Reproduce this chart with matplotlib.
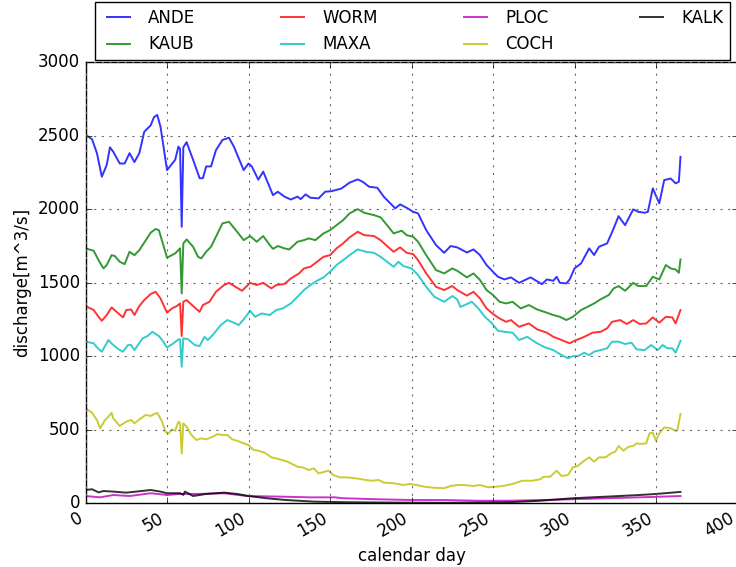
import matplotlib
matplotlib.use("Agg")
import matplotlib.pyplot as plt

# calendar day / discharge [m^3/s], one pair per gauge
ande_day = [0, 4, 7, 10, 13, 15, 17, 21, 24, 27, 30, 33, 36, 40, 42, 44, 46, 50, 55, 57, 58, 59, 60, 62, 66, 70, 72, 74, 77, 80,
            84, 88, 91, 97, 100, 102, 106, 109, 112, 115, 118, 122, 126, 130, 132, 135, 138, 143, 147, 151, 157, 162, 167, 170, 174,
            179, 183, 187, 190, 193, 197, 201, 204, 209, 215, 220, 224, 228, 234, 238, 242, 246, 250, 253, 257, 261, 266, 273, 280,
            283, 287, 289, 291, 295, 297, 300, 304, 309, 312, 315, 320, 324, 327, 331, 336, 339, 343, 345, 348, 352, 355, 359, 362, 364, 365]
ande_q = [2505, 2475, 2380, 2220, 2300, 2420, 2390, 2310, 2310, 2380, 2320, 2380, 2525, 2570, 2625, 2640, 2560, 2265, 2335, 2425, 2410, 1880, 2420, 2455, 2335, 2210, 2210, 2290, 2290, 2400,
          2470, 2485, 2425, 2265, 2310, 2290, 2200, 2255, 2175, 2095, 2118, 2085, 2065, 2085, 2068, 2100, 2077, 2073, 2118, 2122, 2140, 2180, 2202, 2186, 2152,
          2145, 2084, 2039, 2005, 2032, 2009, 1982, 1971, 1857, 1756, 1703, 1749, 1740, 1705, 1726, 1687, 1620, 1574, 1540, 1522, 1536, 1499, 1536, 1490,
          1522, 1513, 1540, 1499, 1495, 1522, 1597, 1631, 1733, 1688, 1744, 1767, 1869, 1952, 1891, 1998, 1982, 1975, 1982, 2141, 2039, 2197, 2208, 2175, 2186, 2355]

kaub_day = [0, 5, 8, 11, 13, 16, 18, 21, 24, 27, 30, 33, 37, 40, 43, 45, 50, 55, 58, 59, 60, 62, 66, 69, 71, 74, 77, 80, 84, 88,
            93, 97, 101, 105, 109, 113, 115, 118, 122, 125, 130, 134, 137, 141, 146, 150, 154, 158, 162, 167, 171, 177, 181, 185, 189,
            194, 197, 201, 204, 209, 215, 220, 225, 228, 234, 238, 242, 246, 250, 254, 258, 262, 267, 272, 277, 283, 287, 291, 295,
            299, 304, 308, 312, 316, 321, 324, 327, 331, 336, 339, 344, 348, 352, 356, 359, 362, 364, 365]
kaub_q = [1733, 1717, 1653, 1597, 1620, 1687, 1681, 1642, 1626, 1710, 1687, 1721, 1789, 1840, 1865, 1857, 1670, 1699, 1733, 1427, 1767, 1794, 1744, 1676, 1665, 1710, 1744, 1812, 1903, 1914,
          1846, 1789, 1817, 1778, 1817, 1756, 1730, 1749, 1733, 1726, 1778, 1789, 1801, 1789, 1835, 1857, 1891, 1925, 1971, 2000, 1975, 1959, 1944, 1891, 1835,
          1853, 1823, 1812, 1778, 1687, 1586, 1563, 1597, 1581, 1536, 1563, 1518, 1450, 1416, 1370, 1359, 1370, 1325, 1348, 1318, 1296, 1280, 1268, 1246,
          1268, 1314, 1336, 1359, 1387, 1416, 1461, 1477, 1445, 1499, 1477, 1477, 1540, 1522, 1620, 1597, 1590, 1567, 1658]

worm_day = [0, 5, 8, 10, 13, 16, 19, 23, 25, 28, 30, 33, 36, 40, 43, 46, 50, 53, 56, 58, 59, 60, 62, 66, 70, 72, 76, 80, 85, 88,
            92, 96, 101, 105, 109, 114, 117, 122, 126, 131, 134, 138, 142, 146, 150, 154, 158, 162, 167, 171, 177, 181, 185, 189,
            193, 197, 201, 204, 209, 215, 220, 225, 228, 234, 238, 242, 246, 250, 254, 258, 261, 266, 272, 277, 283, 287, 291, 297,
            301, 306, 311, 316, 320, 323, 328, 332, 336, 340, 344, 348, 352, 356, 360, 362, 365]
worm_q = [1341, 1314, 1268, 1241, 1280, 1332, 1302, 1264, 1314, 1318, 1280, 1341, 1382, 1423, 1438, 1393, 1296, 1325, 1341, 1359, 1137, 1370, 1382, 1341, 1302, 1348, 1370, 1438, 1484, 1499,
          1472, 1445, 1499, 1484, 1499, 1461, 1484, 1491, 1529, 1563, 1597, 1608, 1642, 1676, 1687, 1733, 1767, 1808, 1846, 1823, 1817, 1789, 1749, 1710,
          1740, 1703, 1694, 1653, 1563, 1472, 1450, 1477, 1450, 1412, 1438, 1393, 1325, 1287, 1257, 1234, 1246, 1200, 1223, 1183, 1160, 1132, 1115, 1088,
          1110, 1132, 1160, 1166, 1190, 1234, 1246, 1219, 1246, 1219, 1223, 1264, 1228, 1268, 1264, 1223, 1314]

maxa_day = [0, 5, 7, 10, 14, 17, 21, 23, 26, 28, 30, 35, 38, 41, 45, 47, 50, 54, 57, 58, 59, 60, 63, 67, 70, 73, 75, 78, 83, 87,
            91, 94, 97, 101, 104, 108, 113, 117, 121, 126, 130, 134, 138, 142, 146, 150, 154, 158, 162, 167, 172, 177, 181, 185,
            189, 192, 195, 200, 204, 209, 214, 220, 225, 228, 230, 233, 237, 241, 245, 249, 253, 257, 262, 266, 271, 277, 282, 287,
            292, 296, 299, 302, 306, 309, 312, 316, 320, 323, 327, 331, 335, 338, 343, 347, 351, 354, 357, 360, 362, 365]
maxa_q = [1099, 1088, 1060, 1031, 1110, 1076, 1042, 1031, 1076, 1076, 1042, 1122, 1137, 1166, 1137, 1110, 1060, 1088, 1115, 1115, 929, 1122, 1115, 1076, 1069, 1132, 1110, 1144, 1212, 1246,
          1228, 1212, 1250, 1309, 1268, 1291, 1280, 1314, 1325, 1359, 1404, 1450, 1484, 1513, 1536, 1574, 1620, 1653, 1687, 1726, 1710, 1703, 1676, 1642,
          1608, 1642, 1613, 1597, 1552, 1472, 1404, 1370, 1409, 1387, 1335, 1350, 1370, 1325, 1268, 1228, 1173, 1166, 1160, 1110, 1132, 1088, 1060, 1042,
          1008, 986, 1001, 1001, 1024, 1008, 1031, 1042, 1054, 1099, 1099, 1083, 1092, 1047, 1042, 1076, 1042, 1076, 1054, 1054, 1024, 1105]

ploc_day = [0, 9, 17, 27, 40, 50, 58, 68, 85, 99, 119, 138, 153, 158, 179, 199, 220, 240, 260, 281, 299, 320, 340, 365]
ploc_q = [50, 41, 57, 50, 69, 57, 64, 64, 69, 50, 46, 41, 41, 35, 28, 23, 23, 18, 18, 23, 28, 35, 41, 50]

coch_day = [0, 4, 7, 9, 12, 14, 16, 17, 21, 25, 28, 30, 33, 37, 40, 42, 44, 47, 49, 51, 53, 55, 57, 58, 59, 60, 62, 65, 68, 71,
            74, 78, 81, 84, 87, 90, 93, 96, 100, 103, 106, 110, 114, 119, 124, 130, 133, 137, 140, 143, 149, 152, 156, 160, 166,
            175, 180, 183, 189, 195, 199, 203, 208, 213, 220, 224, 228, 232, 238, 242, 247, 251, 256, 262, 268, 274, 279, 281, 285,
            289, 292, 296, 299, 302, 305, 309, 312, 315, 319, 323, 325, 327, 330, 333, 336, 338, 340, 344, 346, 348, 350, 352, 355,
            359, 362, 363, 365]
coch_q = [646, 616, 567, 510, 567, 589, 616, 578, 526, 555, 567, 544, 571, 601, 594, 607, 616, 555, 487, 476, 503, 494, 555, 545, 340, 544, 521, 465, 431, 442,
          435, 453, 471, 465, 465, 435, 426, 412, 397, 363, 358, 344, 313, 300, 283, 249, 245, 227, 238, 204, 222, 193, 177, 177, 170,
          154, 159, 141, 137, 125, 132, 125, 113, 107, 103, 118, 125, 125, 118, 125, 109, 113, 118, 132, 154, 154, 164, 181, 181,
          222, 186, 193, 245, 254, 283, 313, 283, 313, 313, 344, 351, 390, 358, 385, 390, 408, 404, 408, 476, 480, 426, 476, 517,
          510, 494, 494, 607]

kalk_day = [0, 4, 8, 11, 17, 25, 31, 40, 46, 50, 58, 60, 61, 66, 74, 85, 93, 100, 111, 123, 140, 160, 180, 200, 220, 240, 260, 279,
            299, 320, 340, 350, 365]
kalk_q = [91, 96, 75, 84, 80, 73, 80, 91, 80, 69, 69, 58, 80, 50, 64, 73, 64, 50, 35, 23, 12, 8, 6, 5, 4, 6, 8, 18,
          35, 46, 57, 64, 78]

plt.style.use("classic")
plt.rcParams["savefig.facecolor"] = "white"
plt.rcParams["figure.facecolor"] = "white"

fig = plt.figure(figsize=(7.36, 5.67), dpi=100)
ax = fig.add_axes([0.1162, 0.1122, 0.8859, 0.7785])

lw = 1.4
ax.plot(ande_day, ande_q, color="b", lw=lw, alpha=0.8, label="ANDE")
ax.plot(kaub_day, kaub_q, color="g", lw=lw, alpha=0.8, label="KAUB")
ax.plot(worm_day, worm_q, color="r", lw=lw, alpha=0.8, label="WORM")
ax.plot(maxa_day, maxa_q, color="c", lw=lw, alpha=0.8, label="MAXA")
ax.plot(ploc_day, ploc_q, color="m", lw=lw, alpha=0.8, label="PLOC")
ax.plot(coch_day, coch_q, color="y", lw=lw, alpha=0.8, label="COCH")
ax.plot(kalk_day, kalk_q, color="k", lw=lw, alpha=0.8, label="KALK")

ax.set_xlim(0, 400)
ax.set_ylim(0, 3000)
ax.set_xticks(range(0, 401, 50))
ax.set_yticks(range(0, 3001, 500))
ax.grid(True, color="0.4", linestyle=(0, (1.5, 4)), linewidth=0.8)
ax.set_xlabel("calendar day", fontsize=12)
ax.set_ylabel("discharge[m^3/s]", fontsize=12)
ax.tick_params(labelsize=12)
for lab in ax.get_xticklabels():
    lab.set_rotation(30)
    lab.set_ha("right")

ax.legend(bbox_to_anchor=(0.129, 0.894, 0.863, 0.0935), bbox_transform=fig.transFigure,
          loc="lower left", ncol=4, mode="expand", borderaxespad=0.0, fontsize=12)

fig.savefig("out.png", dpi=100)
